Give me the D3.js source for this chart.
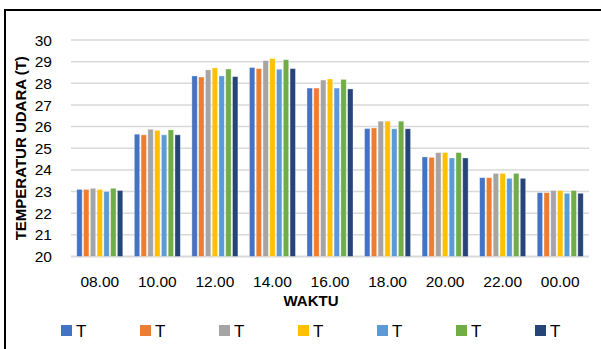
<!DOCTYPE html>
<html>
<head>
<meta charset="utf-8">
<script src="https://cdn.jsdelivr.net/npm/d3@7"></script>
<style>
  html, body { margin: 0; padding: 0; background: #fff; }
  svg { display: block; }
  text { font-family: "Liberation Sans", Arial, sans-serif; fill: #000; }
</style>
</head>
<body>
<svg id="chart" width="601" height="349"></svg>
<script>
// Air temperature readings by time of day, seven series
const times = ["08.00", "10.00", "12.00", "14.00", "16.00", "18.00", "20.00", "22.00", "00.00"];
const seriesNames = ["T", "T", "T", "T", "T", "T", "T"];
const s1 = [23.10, 25.65, 28.34, 28.73, 27.78, 25.91, 24.60, 23.64, 22.95];
const s2 = [23.10, 25.62, 28.29, 28.68, 27.78, 25.94, 24.58, 23.64, 22.95];
const s3 = [23.15, 25.88, 28.62, 29.05, 28.15, 26.25, 24.80, 23.84, 23.05];
const s4 = [23.10, 25.83, 28.71, 29.14, 28.20, 26.25, 24.80, 23.84, 23.05];
const s5 = [23.00, 25.62, 28.34, 28.65, 27.78, 25.90, 24.55, 23.61, 22.92];
const s6 = [23.15, 25.85, 28.66, 29.09, 28.18, 26.25, 24.80, 23.84, 23.05];
const s7 = [23.05, 25.62, 28.31, 28.68, 27.74, 25.90, 24.55, 23.61, 22.92];
const yTicks = [20, 21, 22, 23, 24, 25, 26, 27, 28, 29, 30];
const colors = ["#4472C4", "#ED7D31", "#A5A5A5", "#FFC000", "#5B9BD5", "#70AD47", "#264478"];

const series = [s1, s2, s3, s4, s5, s6, s7];
const svg = d3.select("#chart");

// frame
svg.append("line").attr("x1", 5).attr("x2", 601).attr("y1", 10).attr("y2", 10)
  .attr("stroke", "#000").attr("stroke-width", 2);
svg.append("line").attr("x1", 5).attr("x2", 5).attr("y1", 9).attr("y2", 349)
  .attr("stroke", "#000").attr("stroke-width", 2);

const plot = { left: 71, right: 589, top: 40, bottom: 256.5 };

const x = d3.scaleBand().domain(times).range([plot.left, plot.right])
  .paddingInner(0.2).paddingOuter(0.1);
const xs = d3.scaleBand().domain(d3.range(series.length)).range([0, x.bandwidth()])
  .paddingInner(0.2);
const y = d3.scaleLinear().domain([20, 30]).range([plot.bottom, plot.top]);

// gridlines
svg.append("g").selectAll("line").data(yTicks).join("line")
  .attr("x1", plot.left).attr("x2", plot.right)
  .attr("y1", d => y(d)).attr("y2", d => y(d))
  .attr("stroke", "#d9d9d9").attr("stroke-width", d => d === 20 ? 2 : 1.5);

// y tick labels
svg.append("g").selectAll("text").data(yTicks).join("text")
  .attr("x", 52).attr("y", d => y(d)).attr("dy", "0.36em")
  .attr("text-anchor", "end").style("font-size", "15.5px")
  .text(d => d);

// bars
const groups = svg.append("g").selectAll("g").data(series).join("g")
  .attr("fill", (d, i) => colors[i]);
groups.each(function (vals, si) {
  d3.select(this).selectAll("rect").data(vals).join("rect")
    .attr("x", (d, i) => x(times[i]) + xs(si))
    .attr("width", xs.bandwidth())
    .attr("y", d => y(d))
    .attr("height", d => y(20) - y(d))
    .attr("stroke", "#ffffff").attr("stroke-opacity", 0.45).attr("stroke-width", 0.8);
});

// x tick labels
svg.append("g").selectAll("text").data(times).join("text")
  .attr("x", d => x(d) + x.bandwidth() / 2).attr("y", 287)
  .attr("text-anchor", "middle").style("font-size", "15.5px")
  .text(d => d);

// axis titles
svg.append("text").attr("x", (plot.left + plot.right) / 2 - 19).attr("y", 306)
  .attr("text-anchor", "middle").style("font-size", "15px").style("font-weight", "bold")
  .text("WAKTU");
svg.append("text")
  .attr("transform", `translate(26,${(plot.top + plot.bottom) / 2}) rotate(-90)`)
  .attr("text-anchor", "middle").style("font-size", "15px").style("font-weight", "bold")
  .text("TEMPERATUR UDARA (T)");

// legend
const legend = svg.append("g").selectAll("g").data(seriesNames).join("g")
  .attr("transform", (d, i) => `translate(${61 + i * 79},325)`);
legend.append("rect").attr("width", 11).attr("height", 11)
  .attr("fill", (d, i) => colors[i]);
legend.append("text").attr("x", 15).attr("y", 11.5)
  .style("font-size", "17px").text(d => d);
</script>
</body>
</html>
